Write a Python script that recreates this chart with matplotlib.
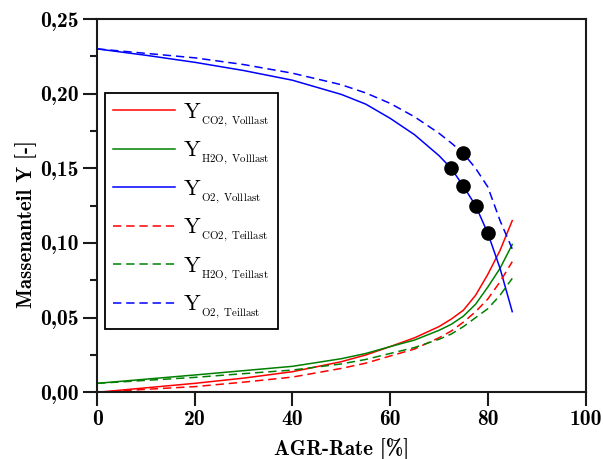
import numpy as np
import matplotlib

matplotlib.use("Agg")
import matplotlib.pyplot as plt
from matplotlib.ticker import FuncFormatter, MultipleLocator

plt.rcParams["mathtext.fontset"] = "cm"
plt.rcParams["axes.unicode_minus"] = False
plt.rcParams["lines.scale_dashes"] = False

# AGR-Rate [%]
agr = [0, 10, 20, 30, 40, 50, 55, 60, 65, 70, 72.5, 75, 77.5, 80, 82.5, 85]

# Volllast
co2_voll = [0.000, 0.003, 0.006, 0.0095, 0.0138, 0.0205, 0.025, 0.0306,
            0.0365, 0.044, 0.049, 0.055, 0.065, 0.079, 0.095, 0.115]
h2o_voll = [0.006, 0.0088, 0.0116, 0.0145, 0.0174, 0.0225, 0.026, 0.0306,
            0.035, 0.0415, 0.0455, 0.051, 0.059, 0.0705, 0.083, 0.099]
o2_voll = [0.230, 0.2257, 0.221, 0.2155, 0.209, 0.1995, 0.193, 0.1835,
           0.1725, 0.1585, 0.150, 0.138, 0.125, 0.1065, 0.083, 0.054]

# Teillast
co2_teil = [0.000, 0.002, 0.0038, 0.0068, 0.0102, 0.016, 0.0195, 0.0243,
            0.029, 0.0365, 0.041, 0.047, 0.054, 0.0625, 0.074, 0.0875]
h2o_teil = [0.006, 0.008, 0.010, 0.0125, 0.0149, 0.019, 0.022, 0.026,
            0.030, 0.0355, 0.039, 0.044, 0.050, 0.056, 0.065, 0.0763]
o2_teil = [0.230, 0.227, 0.224, 0.2195, 0.2137, 0.206, 0.2005, 0.1935,
           0.1845, 0.1735, 0.167, 0.160, 0.150, 0.1375, 0.115, 0.096]

# marked operating points
pts_teil = [75]
pts_voll = [72.5, 75, 77.5, 80]

red = "#ff0000"
green = "#008000"
blue = "#0000ff"


def lbl(species, load):
    return r"$\mathrm{Y}_{{}_{\mathrm{" + species + r",\ " + load + r"}}}$"


fig = plt.figure(figsize=(6.03, 4.59), dpi=100)
ax = fig.add_axes([0.161, 0.1453, 0.810, 0.8133])

lw = 1.1
dash = (6, 3.5)
ax.plot(agr, co2_voll, color=red, lw=lw, label=lbl("CO2", "Volllast"))
ax.plot(agr, h2o_voll, color=green, lw=lw, label=lbl("H2O", "Volllast"))
ax.plot(agr, o2_voll, color=blue, lw=lw, label=lbl("O2", "Volllast"))
ax.plot(agr, co2_teil, color=red, lw=lw, dashes=dash, label=lbl("CO2", "Teillast"))
ax.plot(agr, h2o_teil, color=green, lw=lw, dashes=dash, label=lbl("H2O", "Teillast"))
ax.plot(agr, o2_teil, color=blue, lw=lw, dashes=dash, label=lbl("O2", "Teillast"))

x = np.asarray(agr)
ix_t = [int(np.where(x == p)[0][0]) for p in pts_teil]
ix_v = [int(np.where(x == p)[0][0]) for p in pts_voll]
ax.plot(x[ix_t], np.asarray(o2_teil)[ix_t], "o", color="black", ms=9.5, zorder=5)
ax.plot(x[ix_v], np.asarray(o2_voll)[ix_v], "o", color="black", ms=9.5, zorder=5)

ax.set_xlim(0, 100)
ax.set_ylim(0, 0.25)
ax.xaxis.set_major_locator(MultipleLocator(20))
ax.yaxis.set_major_locator(MultipleLocator(0.05))
ax.yaxis.set_minor_locator(MultipleLocator(0.025))
ax.yaxis.set_major_formatter(FuncFormatter(lambda v, p: f"{v:.2f}".replace(".", ",")))
ax.xaxis.set_major_formatter(FuncFormatter(lambda v, p: f"{v:.0f}"))

ax.tick_params(which="both", direction="out", top=False, right=False,
               width=1.5, color="#1a1a1a", labelsize=15.5, pad=3)
ax.tick_params(which="major", length=10)
ax.tick_params(which="minor", length=5)
for t in ax.get_xticklabels() + ax.get_yticklabels():
    t.set_fontfamily("cmb10")
for s in ax.spines.values():
    s.set_linewidth(1.5)
    s.set_color("#1a1a1a")

ax.set_xlabel("AGR-Rate [%]", fontfamily="cmb10", fontsize=15, labelpad=6)
ax.set_ylabel("Massenanteil Y [-]", fontfamily="cmb10", fontsize=15)
ax.yaxis.set_label_coords(-0.122, 0.45)

leg = ax.legend(loc="upper left", bbox_to_anchor=(0.0158, 0.801), borderaxespad=0,
                fontsize=16, handlelength=2.8, handletextpad=0.34, borderpad=0.37,
                labelspacing=0.5, fancybox=False, framealpha=1, edgecolor="black")
leg.get_frame().set_linewidth(1.3)

fig.savefig("out.png", dpi=100)
